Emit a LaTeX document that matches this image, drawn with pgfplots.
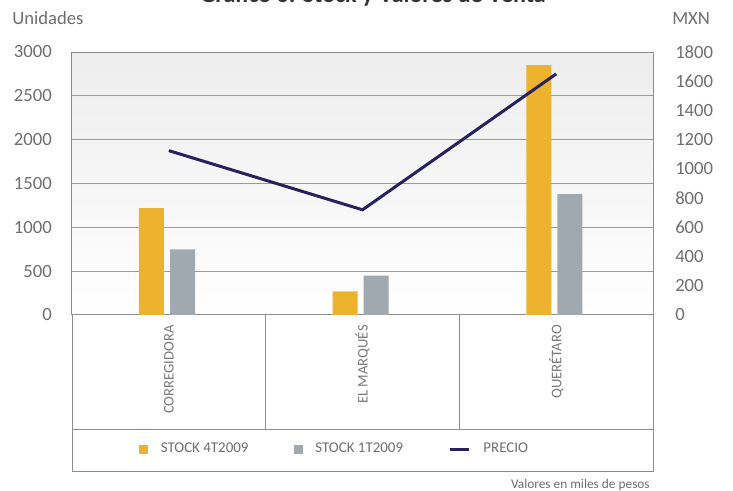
\documentclass[border=0pt]{standalone}
\usepackage{pgfplots}
\pgfplotsset{compat=1.18}
\usepackage{fontspec}
\setmainfont{Carlito}
\definecolor{cyel}{HTML}{EDB32E}
\definecolor{cgry}{HTML}{A1A9B0}
\definecolor{cnavy}{HTML}{27215E}
\definecolor{ctxt}{HTML}{6E6E6E}
\definecolor{ccat}{HTML}{7A7A7A}
\definecolor{cframe}{HTML}{8C8C8C}
\definecolor{cgrid}{HTML}{9A9A9A}
\begin{document}
\begin{tikzpicture}[x=0.75pt,y=0.75pt]
\useasboundingbox (0,0) rectangle (733,490);
\begin{axis}[
  at={(54pt,131.25pt)}, anchor=south west,
  scale only axis, width=435.75pt, height=197.25pt,
  xmin=-0.5, xmax=2.5, ymin=0, ymax=3000,
  ytick={0,500,...,3000},
  xtick={0,1,2},
  xticklabels={CORREGIDORA, EL MARQUÉS, QUERÉTARO},
  xticklabel style={rotate=90, anchor=east, inner sep=0pt, font=\fontsize{11}{11}\selectfont, text=ccat, xshift=-1.5pt},
  xticklabel shift=6pt,
  major tick length=0pt,
  axis line style={cframe, line width=0.75pt},
  ymajorgrids, grid style={cgrid, line width=0.75pt},
  axis background/.style={top color=black!7, bottom color=white},
  yticklabel style={anchor=east, inner sep=0pt, font=\fontsize{14}{14}\selectfont, text=ctxt},
  yticklabel shift=15pt,
  /pgf/number format/assume math mode=true,
  /pgf/number format/1000 sep={},
  ybar, bar width=18.75pt,
]
\addplot[fill=cyel, draw=none, bar shift=-13pt] coordinates {(0,1220) (1,270) (2,2850)};
\addplot[fill=cgry, draw=none, bar shift=10.3pt] coordinates {(0,750) (1,450) (2,1380)};
\end{axis}
\begin{axis}[
  at={(54pt,131.25pt)}, anchor=south west,
  scale only axis, width=435.75pt, height=197.25pt,
  xmin=-0.5, xmax=2.5, ymin=0, ymax=1800,
  ytick={0,200,...,1800},
  axis x line=none,
  axis y line*=right,
  y axis line style={draw=none},
  major tick length=0pt,
  yticklabel style={anchor=west, inner sep=0pt, font=\fontsize{14}{14}\selectfont, text=ctxt},
  yticklabel shift=16.5pt,
  /pgf/number format/assume math mode=true,
  /pgf/number format/1000 sep={},
  legend columns=3,
  legend style={at={(0.1153,-0.5095)}, anchor=west, draw=none, fill=none, inner sep=0pt,
    font=\fontsize{11.2}{11.2}\selectfont, text=ctxt,
    nodes={inner xsep=0pt},
    /tikz/every odd column/.append style={column sep=9.75pt},
    /tikz/every even column/.append style={column sep=34pt}},
]
\addlegendimage{legend image code/.code={\fill[cyel] (0pt,-3pt) rectangle (6pt,3pt);}}
\addlegendentry{STOCK 4T2009}
\addlegendimage{legend image code/.code={\fill[cgry] (0pt,-3pt) rectangle (6pt,3pt);}}
\addlegendentry{STOCK 1T2009}
\addplot[cnavy, line width=2.25pt, mark=none,
  legend image code/.code={\draw[cnavy, line width=2.25pt] (0pt,0pt) -- (14.25pt,0pt);}]
  coordinates {(0,1125) (1,720) (2,1650)};
\addlegendentry{PRECIO}
\end{axis}
% table below the plot
\draw[cframe, line width=0.75pt] (72,175) -- (72,19) -- (653,19) -- (653,175);
\draw[cframe, line width=0.75pt] (72,61) -- (653,61);
\draw[cframe, line width=0.75pt] (265.7,175) -- (265.7,61);
\draw[cframe, line width=0.75pt] (459.3,175) -- (459.3,61);
% texts
\node[anchor=base west, inner sep=0pt, font=\fontsize{14}{14}\selectfont, text=ctxt] at (12,465) {Unidades};
\node[anchor=base west, inner sep=0pt, font=\fontsize{14}{14}\selectfont, text=ctxt] at (672,465) {MXN};
\node[anchor=base, inner sep=0pt, font=\bfseries\fontsize{18}{18}\selectfont, text=black!80] at (373,487) {Gráfico 6: Stock y Valores de Venta};
\node[anchor=base east, inner sep=0pt, font=\fontsize{10}{10}\selectfont, text=ctxt] at (650,2) {Valores en miles de pesos};
\end{tikzpicture}
\end{document}
